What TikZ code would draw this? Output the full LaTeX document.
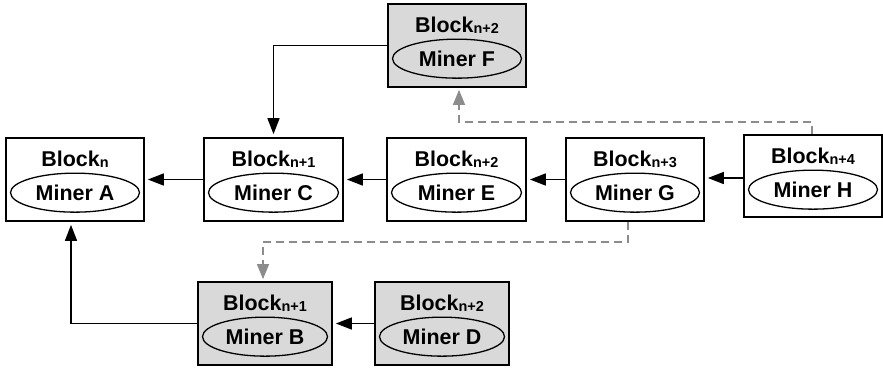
\documentclass[tikz,border=0pt]{standalone}
\usepackage{fontspec}
\setmainfont{Liberation Sans}
\usetikzlibrary{arrows.meta,calc,shapes.geometric}
\definecolor{boxgray}{RGB}{217,217,217}
\definecolor{dashgray}{RGB}{140,140,140}
\tikzset{
  blockbox/.style={draw=black,line width=1.7bp,inner sep=0pt},
  blocklabel/.style={font=\fontsize{21.5}{23}\selectfont\bfseries,inner sep=0pt},
  minerell/.style={draw=black,line width=1.3bp,ellipse,inner sep=0pt,font=\fontsize{21.5}{23}\selectfont\bfseries},
  arr/.style={line width=1.6bp,-{Triangle[length=16bp,width=12bp]},shorten >=3bp},
  darr/.style={line width=1.4bp,dashgray,dash pattern=on 8bp off 5bp,-{Triangle[length=15bp,width=12bp]},shorten >=2bp},
}
\newcommand\drawblk[8]{%
  \node[blockbox,fill=#6,minimum width=#4bp,minimum height=#5bp] (#1) at (#2,#3) {};
  \node[blocklabel] (#1l) at ([yshift=-22bp]#1.north) {Block\raisebox{-1.5bp}{\fontsize{14.5}{15}\selectfont #7}};
  \node[minerell,minimum width=#4bp-9bp,minimum height=39bp] (#1e) at ([yshift=-55.5bp]#1.north) {#8};
}
\begin{document}
\begin{tikzpicture}[x=1bp,y=-1bp]
\useasboundingbox (0,0) rectangle (883,368);
\drawblk{A}{75}{179.5}{138}{83}{white}{n}{Miner A}
\drawblk{C}{273.5}{179.5}{139}{83}{white}{n+1}{Miner C}
\drawblk{E}{456.5}{179.5}{139}{83}{white}{n+2}{Miner E}
\drawblk{G}{635}{179.5}{138}{83}{white}{n+3}{Miner G}
\drawblk{H}{813}{176}{138}{82}{white}{n+4}{Miner H}
\drawblk{F}{457}{45.5}{138}{83}{boxgray}{n+2}{Miner F}
\drawblk{B}{265}{323.5}{134}{83}{boxgray}{n+1}{Miner B}
\drawblk{D}{442}{323.5}{134}{83}{boxgray}{n+2}{Miner D}
% solid connectors
\draw[arr] (C.west) -- (A.east);
\draw[arr] (E.west) -- (C.east);
\draw[arr] (G.west) -- (E.east);
\draw[arr] ([yshift=-2bp]H.west) coordinate (h1) -- (h1 -| G.east);
\draw[arr] (D.west) -- (B.east);
\draw[arr] (B.west) -| ([xshift=-4bp]A.south);
\draw[arr] (F.west) -| (C.north);
% dashed connectors
\draw[darr] ([xshift=-7bp]G.south) |- ([xshift=-2bp,yshift=39bp]B.north) -- ([xshift=-2bp]B.north);
\draw[darr] ([xshift=-1bp]H.north) |- ([xshift=2bp,yshift=-34bp]F.south) -- ([xshift=2bp]F.south);
\end{tikzpicture}
\end{document}
